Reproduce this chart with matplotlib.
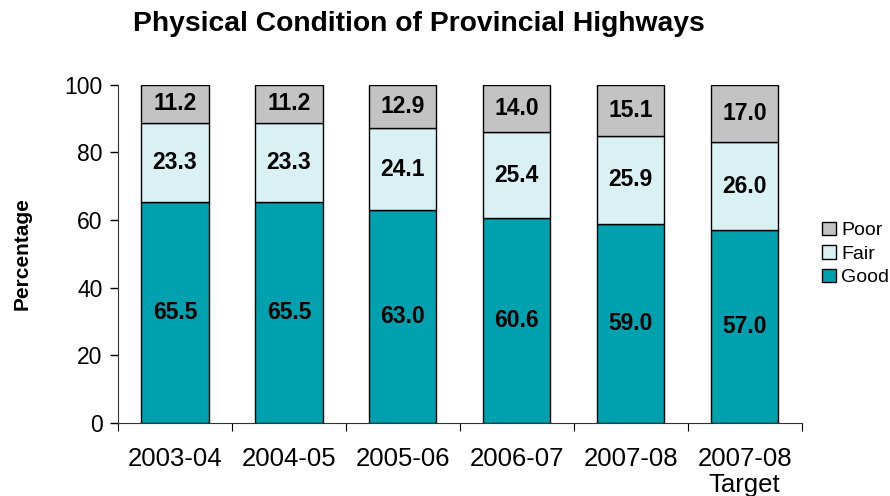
import matplotlib
matplotlib.use("Agg")
import matplotlib.pyplot as plt
import numpy as np

plt.rcParams["font.family"] = ["Liberation Sans", "DejaVu Sans"]

years = ["2003-04", "2004-05", "2005-06", "2006-07", "2007-08", "2007-08\nTarget"]
good = [65.5, 65.5, 63.0, 60.6, 59.0, 57.0]
fair = [23.3, 23.3, 24.1, 25.4, 25.9, 26.0]
poor = [11.2, 11.2, 12.9, 14.0, 15.1, 17.0]

c_good = "#00A1AE"
c_fair = "#D9F1F3"
c_poor = "#C3C3C3"

fig = plt.figure(figsize=(8.9, 4.96), dpi=100)
ax = fig.add_axes([0.1326, 0.147, 0.768, 0.682])

x = np.arange(len(years))
w = 0.59
good_arr = np.array(good)
fair_arr = np.array(fair)
poor_arr = np.array(poor)

b1 = ax.bar(x, good_arr, w, color=c_good, edgecolor="black", linewidth=1, label="Good")
b2 = ax.bar(x, fair_arr, w, bottom=good_arr, color=c_fair, edgecolor="black", linewidth=1, label="Fair")
b3 = ax.bar(x, poor_arr, w, bottom=good_arr + fair_arr, color=c_poor, edgecolor="black", linewidth=1, label="Poor")

for i in range(len(years)):
    ax.text(x[i], good_arr[i] / 2, f"{good[i]:.1f}", ha="center", va="center",
            fontsize=16.5, fontweight="bold")
    ax.text(x[i], good_arr[i] + fair_arr[i] / 2, f"{fair[i]:.1f}", ha="center", va="center",
            fontsize=16.5, fontweight="bold")
    ax.text(x[i], good_arr[i] + fair_arr[i] + poor_arr[i] / 2, f"{poor[i]:.1f}",
            ha="center", va="center", fontsize=16.5, fontweight="bold")

ax.set_xlim(-0.5, len(years) - 0.5)
ax.set_ylim(0, 100)
ax.set_yticks([0, 20, 40, 60, 80, 100])
ax.tick_params(axis="y", labelsize=16.5, length=6, direction="out", width=1, pad=5)

# category boundaries as major ticks, labels on minor ticks
ax.set_xticks(np.arange(len(years) + 1) - 0.5)
ax.set_xticklabels([])
ax.set_xticks(x, minor=True)
ax.set_xticklabels(years, minor=True, fontsize=18.5, linespacing=1.1)
ax.tick_params(axis="x", which="major", length=6, direction="out")
ax.tick_params(axis="x", which="minor", length=0, pad=17)

ax.spines["top"].set_visible(False)
ax.spines["right"].set_visible(False)
ax.spines["left"].set_color("#333333")
ax.spines["bottom"].set_color("#333333")

ax.set_ylabel("Percentage", fontsize=15, fontweight="bold", labelpad=24)

fig.suptitle("Physical Condition of Provincial Highways", x=0.471, y=0.978,
             fontsize=20.3, fontweight="bold")

handles = [b3, b2, b1]
leg = ax.legend(handles, ["Poor", "Fair", "Good"], loc="center left",
                bbox_to_anchor=(1.005, 0.5), frameon=False, fontsize=14,
                handlelength=0.7, handleheight=0.7, handletextpad=0.25,
                labelspacing=0.3)

fig.savefig("out.png", dpi=100)
